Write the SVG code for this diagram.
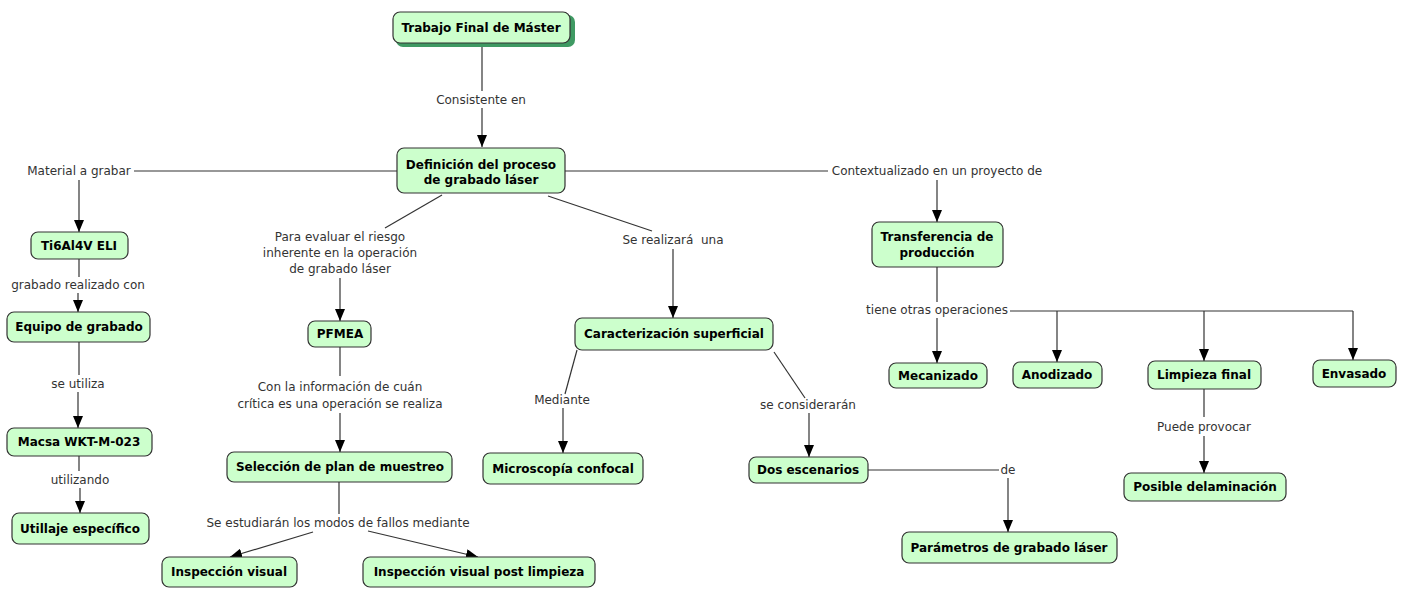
<svg xmlns="http://www.w3.org/2000/svg" width="1405" height="589" viewBox="0 0 1405 589">
<defs>
<style>
.n rect{fill:#ccffcc;stroke:#333;stroke-width:1.2}
.n text{font-family:"DejaVu Sans",Verdana,sans-serif;font-size:12px;font-weight:bold;fill:#000;text-anchor:middle}
.l{font-family:"DejaVu Sans",Verdana,sans-serif;font-size:12px;fill:#333;text-anchor:middle}
.c path{fill:none;stroke:#333;stroke-width:1.2}
.c path.a{marker-end:url(#ar)}
</style>
<marker id="ar" markerUnits="userSpaceOnUse" viewBox="0 0 12 10" markerWidth="12" markerHeight="10" refX="12" refY="5" orient="auto">
<path d="M0,0 L12,5 L0,10 z" fill="#000"/>
</marker>
</defs>
<rect width="1405" height="589" fill="#fff"/>

<g class="c" id="connectors">
<path d="M482,44 V91"/>
<path class="a" d="M482,108 V147"/>
<path d="M397,171 H134"/>
<path class="a" d="M79,180 V232"/>
<path d="M565,171 H828"/>
<path class="a" d="M937,180 V222"/>
<path d="M79,259 V277"/>
<path class="a" d="M78,293 V312"/>
<path d="M79,342 V375"/>
<path class="a" d="M78,392 V428"/>
<path d="M79,456 V471"/>
<path class="a" d="M80,488 V513"/>
<path d="M442,195 L385,228"/>
<path class="a" d="M340,278 V321"/>
<path d="M548,196 L652,231"/>
<path class="a" d="M673,249 V318"/>
<path d="M340,347 V376"/>
<path class="a" d="M340,413 V452"/>
<path d="M339,482 V514"/>
<path class="a" d="M313,532 L230,557"/>
<path class="a" d="M368,531 L478,557"/>
<path d="M577,350 L565,394"/>
<path class="a" d="M563,408 V453"/>
<path d="M774,352 L805,398"/>
<path class="a" d="M809,413 V457"/>
<path d="M868,470 H999"/>
<path class="a" d="M1008,478 V532"/>
<path d="M937,267 V302"/>
<path class="a" d="M937,318 V363"/>
<path d="M1010,311 H1353"/>
<path class="a" d="M1057,311 V362"/>
<path class="a" d="M1204,311 V361"/>
<path class="a" d="M1353,311 V360"/>
<path d="M1204,389 V417"/>
<path class="a" d="M1204,436 V473"/>
</g>

<g id="labels">
<text class="l" x="481" y="104">Consistente en</text>
<text class="l" x="79" y="175">Material a grabar</text>
<text class="l" x="937" y="175">Contextualizado en un proyecto de</text>
<text class="l" x="78" y="289">grabado realizado con</text>
<text class="l" x="78" y="388">se utiliza</text>
<text class="l" x="80" y="484">utilizando</text>
<text class="l" x="340" y="241">Para evaluar el riesgo</text>
<text class="l" x="340" y="257">inherente en la operación</text>
<text class="l" x="340" y="273">de grabado láser</text>
<text class="l" x="673" y="244" xml:space="preserve">Se realizará  una</text>
<text class="l" x="340" y="391">Con la información de cuán</text>
<text class="l" x="340" y="408">crítica es una operación se realiza</text>
<text class="l" x="338" y="527">Se estudiarán los modos de fallos mediante</text>
<text class="l" x="562" y="404">Mediante</text>
<text class="l" x="808" y="409">se considerarán</text>
<text class="l" x="1008" y="474">de</text>
<text class="l" x="937" y="314">tiene otras operaciones</text>
<text class="l" x="1204" y="431">Puede provocar</text>
</g>

<g class="n" id="n-tfm">
<rect x="396" y="15" width="179" height="32" rx="7" style="fill:#3f9a63;stroke:none"/>
<rect x="393" y="12" width="177" height="31" rx="7"/>
<text x="481" y="32">Trabajo Final de Máster</text>
</g>
<g class="n" id="n-def">
<rect x="397" y="148" width="168" height="45" rx="7"/>
<text x="481" y="169">Definición del proceso</text>
<text x="481" y="184">de grabado láser</text>
</g>
<g class="n" id="n-ti">
<rect x="31" y="232" width="97" height="27" rx="7"/>
<text x="79" y="250">Ti6Al4V ELI</text>
</g>
<g class="n" id="n-equipo">
<rect x="7" y="312" width="143" height="30" rx="7"/>
<text x="79" y="331">Equipo de grabado</text>
</g>
<g class="n" id="n-macsa">
<rect x="7" y="428" width="145" height="28" rx="7"/>
<text x="79" y="446">Macsa WKT-M-023</text>
</g>
<g class="n" id="n-utillaje">
<rect x="12" y="513" width="137" height="31" rx="7"/>
<text x="80" y="533">Utillaje específico</text>
</g>
<g class="n" id="n-pfmea">
<rect x="308" y="321" width="63" height="26" rx="7"/>
<text x="340" y="338">PFMEA</text>
</g>
<g class="n" id="n-seleccion">
<rect x="227" y="452" width="225" height="30" rx="7"/>
<text x="340" y="471">Selección de plan de muestreo</text>
</g>
<g class="n" id="n-insp">
<rect x="162" y="557" width="135" height="30" rx="7"/>
<text x="229" y="576">Inspección visual</text>
</g>
<g class="n" id="n-insp-post">
<rect x="363" y="557" width="232" height="30" rx="7"/>
<text x="479" y="576">Inspección visual post limpieza</text>
</g>
<g class="n" id="n-carac">
<rect x="575" y="318" width="198" height="32" rx="7"/>
<text x="674" y="338">Caracterización superficial</text>
</g>
<g class="n" id="n-micro">
<rect x="483" y="453" width="160" height="31" rx="7"/>
<text x="563" y="473">Microscopía confocal</text>
</g>
<g class="n" id="n-dos">
<rect x="749" y="457" width="119" height="26" rx="7"/>
<text x="808" y="474">Dos escenarios</text>
</g>
<g class="n" id="n-param">
<rect x="902" y="532" width="215" height="31" rx="7"/>
<text x="1009" y="552">Parámetros de grabado láser</text>
</g>
<g class="n" id="n-transf">
<rect x="872" y="222" width="131" height="45" rx="7"/>
<text x="937" y="241">Transferencia de</text>
<text x="937" y="257">producción</text>
</g>
<g class="n" id="n-mec">
<rect x="889" y="363" width="98" height="25" rx="7"/>
<text x="938" y="380">Mecanizado</text>
</g>
<g class="n" id="n-anod">
<rect x="1013" y="362" width="89" height="26" rx="7"/>
<text x="1057" y="379">Anodizado</text>
</g>
<g class="n" id="n-limp">
<rect x="1148" y="361" width="113" height="28" rx="7"/>
<text x="1204" y="379">Limpieza final</text>
</g>
<g class="n" id="n-env">
<rect x="1313" y="360" width="83" height="27" rx="7"/>
<text x="1354" y="378">Envasado</text>
</g>
<g class="n" id="n-delam">
<rect x="1124" y="473" width="162" height="28" rx="7"/>
<text x="1205" y="491">Posible delaminación</text>
</g>
</svg>
